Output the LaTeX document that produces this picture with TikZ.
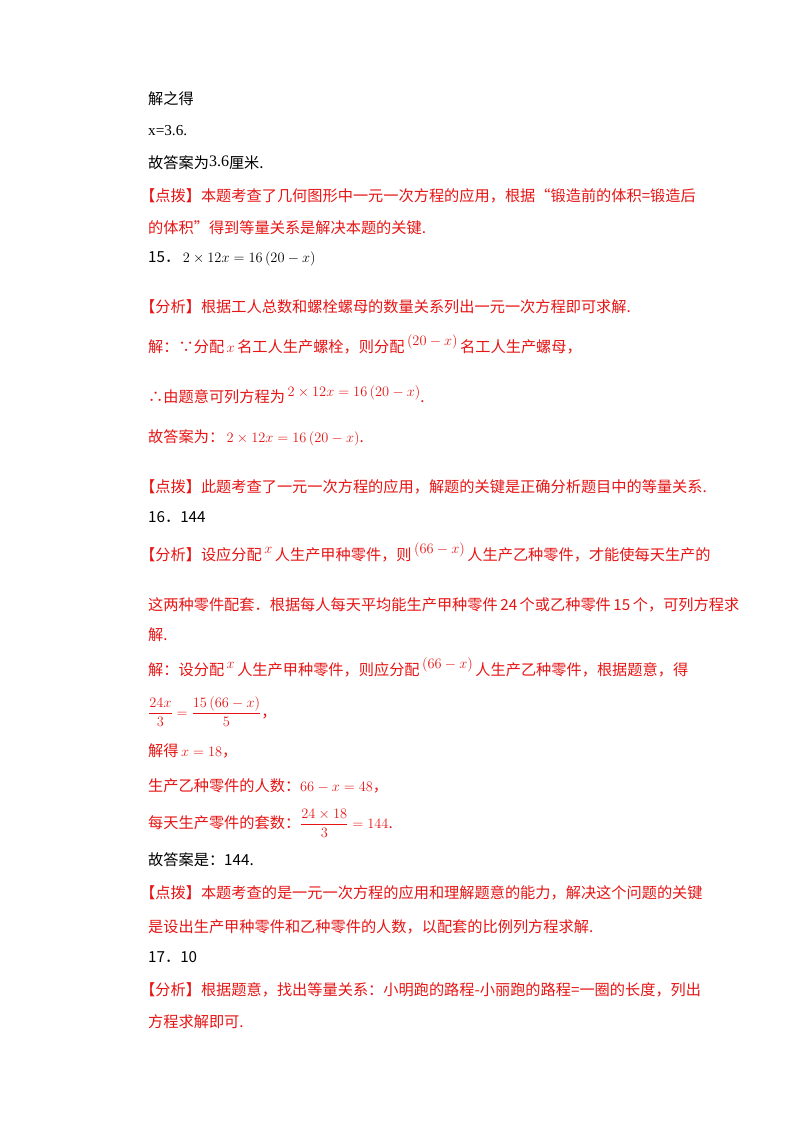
\documentclass[tikz,border=0pt]{standalone}
\usepackage{fontspec}
\setmainfont{Noto Sans CJK SC}
\newfontfamily\lat{Liberation Serif}
\definecolor{rd}{RGB}{230,20,20}
\begin{document}
\begin{tikzpicture}[x=1pt,y=-1pt,
  t/.style={anchor=base west,inner sep=0pt,font=\fontsize{15.2}{17}\selectfont},
  r/.style={t,text=rd}]
\useasboundingbox (0,0) rectangle (800,1132);
\node[t] (a1) at (148,104) {解之得};
\node[t] (a2) at (148,135) {\lat x=3.6.};
\node[t] (a3) at (148,168) {故答案为\raisebox{2pt}{\lat\fontsize{16}{18}\selectfont 3.6}厘米.};
\node[r] (a4) at (140,201) {【点拨】本题考查了几何图形中一元一次方程的应用，根据“锻造前的体积=锻造后};
\node[r] (a5) at (148,233) {的体积”得到等量关系是解决本题的关键.};
\node[t] (a6) at (148,262) {15．\,$2\times12x=16\left(20-x\right)$};
\node[r] (b1) at (140,312) {【分析】根据工人总数和螺栓螺母的数量关系列出一元一次方程即可求解.};
\node[r] (b2) at (148,352) {解：∵分配\,$x$\,名工人生产螺栓，则分配\,\raisebox{7pt}{$\left(20-x\right)$}\,名工人生产螺母，};
\node[r] (b3) at (148,402) {∴由题意可列方程为\,\raisebox{6pt}{$2\times12x=16\left(20-x\right)$}.};
\node[r] (b4) at (148,442) {故答案为：\,$2\times12x=16\left(20-x\right)$.};
\node[r] (b5) at (140,492) {【点拨】此题考查了一元一次方程的应用，解题的关键是正确分析题目中的等量关系.};
\node[t] (c1) at (148,522) {16．144};
\node[r] (c2) at (140,560) {【分析】设应分配\,\raisebox{7pt}{$x$}\,人生产甲种零件，则\,\raisebox{7pt}{$\left(66-x\right)$}\,人生产乙种零件，才能使每天生产的};
\node[r] (c3) at (148,610) {这两种零件配套．根据每人每天平均能生产甲种零件\,24\,个或乙种零件\,15\,个，可列方程求};
\node[r] (c4) at (148,640) {解.};
\node[r] (c5) at (148,675) {解：设分配\,\raisebox{7pt}{$x$}\,人生产甲种零件，则应分配\,\raisebox{7pt}{$\left(66-x\right)$}\,人生产乙种零件，根据题意，得};
\node[r] (c6) at (148,717) {$\displaystyle\frac{24x}{3}=\frac{15\left(66-x\right)}{5}$，};
\node[r] (c7) at (148,756) {解得\,$x=18$，};
\node[r] (c8) at (148,791) {生产乙种零件的人数：$66-x=48$，};
\node[r] (c9) at (148,828) {每天生产零件的套数：$\displaystyle\frac{24\times18}{3}=144$.};
\node[t] (c10) at (148,865) {故答案是：144.};
\node[r] (c11) at (140,898) {【点拨】本题考查的是一元一次方程的应用和理解题意的能力，解决这个问题的关键};
\node[r] (c12) at (148,932) {是设出生产甲种零件和乙种零件的人数，以配套的比例列方程求解.};
\node[t] (d1) at (148,962) {17．10};
\node[r] (d2) at (140,995) {【分析】根据题意，找出等量关系：小明跑的路程-小丽跑的路程=一圈的长度，列出};
\node[r] (d3) at (148,1027) {方程求解即可.};
\end{tikzpicture}
\end{document}
